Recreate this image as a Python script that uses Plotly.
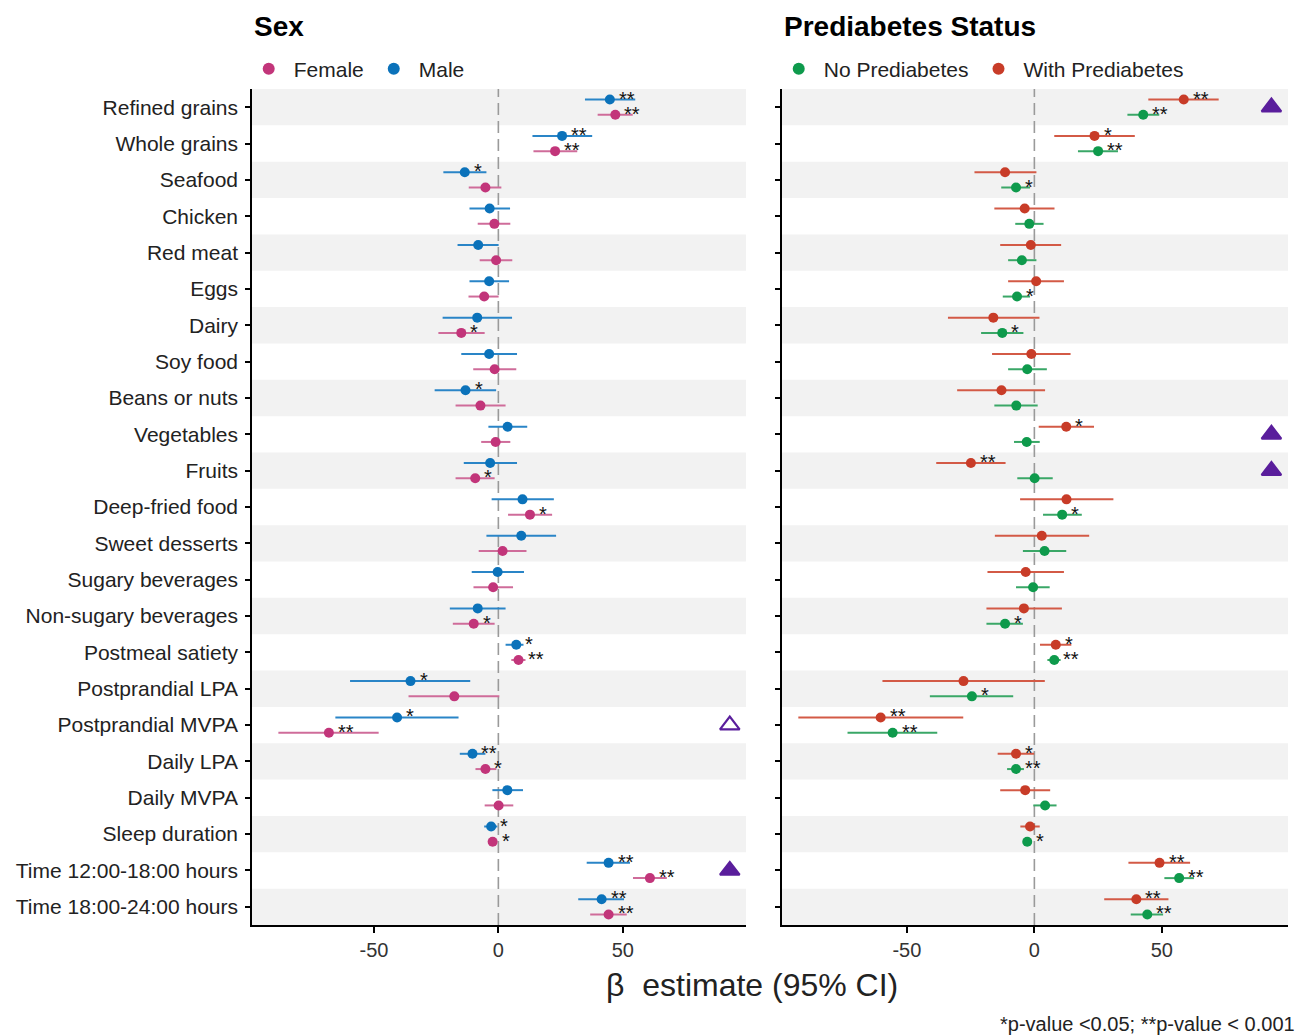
import plotly.graph_objects as go

# ---------------- data ----------------
categories = ["Refined grains", "Whole grains", "Seafood", "Chicken", "Red meat", "Eggs",
              "Dairy", "Soy food", "Beans or nuts", "Vegetables", "Fruits", "Deep-fried food",
              "Sweet desserts", "Sugary beverages", "Non-sugary beverages", "Postmeal satiety",
              "Postprandial LPA", "Postprandial MVPA", "Daily LPA", "Daily MVPA",
              "Sleep duration", "Time 12:00-18:00 hours", "Time 18:00-24:00 hours"]

x_tickvals = [-50, 0, 50]
x_ticktext = ["-50", "0", "50"]

male_est = [44.8, 25.6, -13.5, -3.5, -8.1, -3.7, -8.5, -3.7, -13.2, 3.7, -3.3, 9.7, 9.2, -0.3,
            -8.3, 7.2, -35.3, -40.7, -10.4, 3.6, -2.9, 44.3, 41.5]
male_lo = [34.8, 13.7, -22.1, -11.6, -16.4, -11.6, -22.4, -14.9, -25.6, -4.0, -13.9, -2.7, -4.8,
           -10.7, -19.5, 2.9, -59.6, -65.5, -15.5, -2.4, -5.7, 35.5, 32.1]
male_hi = [55.0, 37.7, -4.8, 4.7, 0.1, 4.3, 5.5, 7.5, -0.9, 11.6, 7.5, 22.3, 23.2, 10.3, 2.9,
           10.1, -11.3, -16.0, -5.2, 9.9, -0.4, 52.9, 50.5]
male_sig = ["**", "**", "*", "", "", "", "", "", "*", "", "", "", "", "", "", "*", "*", "*",
            "**", "", "*", "**", "**"]

female_est = [47.0, 22.8, -5.2, -1.6, -0.9, -5.7, -14.9, -1.5, -7.2, -1.1, -9.3, 12.7, 1.7, -2.1,
              -9.9, 8.1, -17.7, -68.1, -5.2, 0.1, -2.3, 60.9, 44.3]
female_lo = [39.9, 14.1, -11.9, -8.3, -7.5, -12.0, -24.1, -10.1, -17.2, -6.9, -17.2, 3.9, -7.9,
             -10.0, -18.3, 5.2, -36.1, -88.4, -9.2, -5.5, -3.9, 54.1, 36.9]
female_hi = [54.0, 31.7, 1.2, 4.8, 5.6, 0.1, -5.5, 7.2, 2.9, 4.8, -1.5, 21.6, 11.3, 5.9, -1.5,
             10.9, 0.4, -48.1, -0.8, 6.0, -0.5, 67.7, 51.6]
female_sig = ["**", "**", "", "", "", "", "*", "", "", "", "*", "*", "", "", "*", "**", "", "**",
              "*", "", "*", "**", "**"]

withpd_est = [58.6, 23.6, -11.5, -3.8, -1.4, 0.7, -16.1, -1.2, -12.9, 12.5, -24.9, 12.6, 2.9, -3.4,
              -4.1, 8.4, -27.8, -60.3, -7.2, -3.6, -1.7, 49.1, 40.0]
withpd_lo = [44.7, 7.8, -23.5, -15.7, -13.4, -10.3, -33.9, -16.6, -30.3, 1.7, -38.5, -5.6, -15.5,
             -18.4, -18.8, 2.2, -59.6, -92.6, -14.4, -13.4, -5.5, 36.9, 27.4]
withpd_hi = [72.3, 39.4, 0.8, 7.9, 10.5, 11.6, 2.0, 14.2, 4.2, 23.4, -11.3, 31.0, 21.5, 11.6, 10.8,
             14.5, 4.1, -27.9, -0.1, 6.2, 2.1, 61.1, 52.6]
withpd_sig = ["**", "*", "", "", "", "", "", "", "", "*", "**", "", "", "", "", "*", "", "**", "*",
              "", "", "**", "**"]

nopd_est = [42.7, 25.0, -7.2, -2.0, -4.9, -6.8, -12.6, -2.8, -7.1, -3.0, 0.1, 10.9, 4.0, -0.5,
            -11.5, 7.8, -24.5, -55.6, -7.2, 4.2, -2.8, 56.8, 44.3]
nopd_lo = [36.5, 17.1, -13.0, -7.5, -10.3, -12.4, -20.9, -10.3, -15.7, -8.0, -6.7, 3.4, -4.5, -7.2,
           -18.8, 5.1, -41.0, -73.3, -10.7, -0.4, -4.0, 51.0, 37.8]
nopd_hi = [49.0, 32.8, -1.7, 3.6, 0.8, -1.7, -4.3, 4.9, 1.3, 2.1, 7.2, 18.6, 12.5, 6.0, -4.5, 10.3,
           -8.3, -38.1, -4.1, 8.7, -1.5, 62.6, 50.5]
nopd_sig = ["**", "**", "*", "", "", "*", "*", "", "", "", "", "*", "", "", "*", "**", "*", "**",
            "**", "", "*", "**", "**"]

# interaction markers (category, filled?)
sex_triangles = [("Postprandial MVPA", False), ("Time 12:00-18:00 hours", True)]
pd_triangles = [("Refined grains", True), ("Vegetables", True), ("Fruits", True)]

# ---------------- styles ----------------
FONT = "Liberation Sans, Arial, sans-serif"
C_FEMALE, L_FEMALE = "#C2357A", "#CF6C9A"
C_MALE, L_MALE = "#0B72BA", "#2A85C7"
C_NOPD, L_NOPD = "#0E9A4C", "#3AA767"
C_WPD, L_WPD = "#C83C28", "#D35A46"
C_TRI = "#5A1E9C"
TRI_X = 93
UP, DOWN = -0.21, 0.21
PLOT_H = 836

idx = {c: i for i, c in enumerate(categories)}
ypos = list(range(len(categories)))

fig = go.Figure()


def add_group(name, est, lo, hi, offset, cpt, cline, xa, ya, legend):
    fig.add_trace(go.Scatter(
        x=est, y=[i + offset for i in ypos], mode="markers", name=name,
        marker=dict(color=cpt, size=10),
        error_x=dict(type="data", symmetric=False,
                     array=[h - e for h, e in zip(hi, est)],
                     arrayminus=[e - l for e, l in zip(est, lo)],
                     color=cline, thickness=2, width=0),
        xaxis=xa, yaxis=ya, legend=legend, hoverinfo="skip"))


# legend order: Female, Male / No Prediabetes, With Prediabetes
add_group("Female", female_est, female_lo, female_hi, DOWN, C_FEMALE, L_FEMALE, "x", "y", "legend")
add_group("Male", male_est, male_lo, male_hi, UP, C_MALE, L_MALE, "x", "y", "legend")
add_group("No Prediabetes", nopd_est, nopd_lo, nopd_hi, DOWN, C_NOPD, L_NOPD, "x2", "y2", "legend2")
add_group("With Prediabetes", withpd_est, withpd_lo, withpd_hi, UP, C_WPD, L_WPD, "x2", "y2", "legend2")

annotations = []


def add_sig(est, sig, offset, xa, ya):
    for i, (e, s) in enumerate(zip(est, sig)):
        if s:
            annotations.append(dict(x=e, y=i + offset, xref=xa, yref=ya, text=s, showarrow=False,
                                    xanchor="left", yanchor="middle", xshift=7, yshift=1,
                                    font=dict(family=FONT, size=20, color="#111")))


add_sig(male_est, male_sig, UP, "x", "y")
add_sig(female_est, female_sig, DOWN, "x", "y")
add_sig(withpd_est, withpd_sig, UP, "x2", "y2")
add_sig(nopd_est, nopd_sig, DOWN, "x2", "y2")


def add_tri(tris, xa, ya):
    for filled in (True, False):
        sel = [c for c, f in tris if f == filled]
        if not sel:
            continue
        fig.add_trace(go.Scatter(
            x=[TRI_X] * len(sel), y=[idx[c] for c in sel], mode="markers", showlegend=False,
            marker=dict(symbol="triangle-up" if filled else "triangle-up-open", size=17,
                        color=C_TRI, line=dict(color=C_TRI, width=2.2)),
            xaxis=xa, yaxis=ya, hoverinfo="skip"))


add_tri(sex_triangles, "x", "y")
add_tri(pd_triangles, "x2", "y2")

# background bands and zero lines
shapes = []
for xd, ya, xa in (("x domain", "y", "x"), ("x2 domain", "y2", "x2")):
    for i in ypos:
        if i % 2 == 0:
            shapes.append(dict(type="rect", xref=xd, yref=ya, x0=0, x1=1, y0=i - 0.5, y1=i + 0.5,
                               fillcolor="#F2F2F2", line=dict(width=0), layer="below"))
    shapes.append(dict(type="line", xref=xa, yref=ya + " domain", x0=0, x1=0,
                       y0=0, y1=1, line=dict(color="#9A9A9A", width=1.6, dash="12px,6px"),
                       layer="below"))

# titles, axis title, caption
annotations += [
    dict(x=0, y=1 + 63 / PLOT_H, xref="paper", yref="paper", text="<b>Sex</b>", showarrow=False,
         xanchor="left", yanchor="middle", font=dict(family=FONT, size=28, color="#000")),
    dict(x=0.5116, y=1 + 63 / PLOT_H, xref="paper", yref="paper", text="<b>Prediabetes Status</b>",
         showarrow=False, xanchor="left", yanchor="middle",
         font=dict(family=FONT, size=28, color="#000")),
    dict(x=0.4826, y=-60 / PLOT_H, xref="paper", yref="paper", text="β  estimate (95% CI)",
         showarrow=False, xanchor="center", yanchor="middle",
         font=dict(family=FONT, size=32, color="#222")),
    dict(x=1.0087, y=-99 / PLOT_H, xref="paper", yref="paper",
         text="*p-value <0.05; **p-value < 0.001", showarrow=False, xanchor="right",
         yanchor="middle", font=dict(family=FONT, size=20, color="#222")),
]

xaxis_common = dict(range=[-99, 99.5], tickvals=x_tickvals, ticktext=x_ticktext, showgrid=False,
                    zeroline=False, showline=True, linecolor="#000", linewidth=1.6,
                    ticks="outside", ticklen=6, tickwidth=1.5, tickcolor="#000",
                    tickfont=dict(family=FONT, size=20, color="#333"))
yaxis_common = dict(range=[len(categories) - 0.5, -0.5], tickvals=ypos, showgrid=False,
                    zeroline=False, showline=True, linecolor="#000", linewidth=1.6,
                    ticks="outside", ticklen=5, tickwidth=1.5, tickcolor="#000")

legend_common = dict(orientation="h", y=1 + 20 / PLOT_H, xanchor="left", yanchor="middle",
                     font=dict(family=FONT, size=21, color="#222"), bgcolor="rgba(0,0,0,0)",
                     itemsizing="constant", itemwidth=40)

# page body has an 8px margin -> figure occupies 1301x1027 of the 1309x1035 window
fig.update_layout(
    width=1301, height=1027,
    margin=dict(l=244, r=21, t=81, b=110),
    paper_bgcolor="white", plot_bgcolor="white",
    font=dict(family=FONT, color="#222"),
    xaxis=dict(domain=[0, 0.4768], **xaxis_common),
    xaxis2=dict(domain=[0.5116, 1.0], anchor="y2", **xaxis_common),
    yaxis=dict(ticktext=categories, tickfont=dict(family=FONT, size=21, color="#222"),
               automargin=False, ticklabelstandoff=3, **yaxis_common),
    yaxis2=dict(anchor="x2", showticklabels=False, **yaxis_common),
    legend=dict(x=-0.008, **legend_common),
    legend2=dict(x=0.5036, **legend_common),
    shapes=shapes,
    annotations=annotations,
)

fig.write_html("out.html")
